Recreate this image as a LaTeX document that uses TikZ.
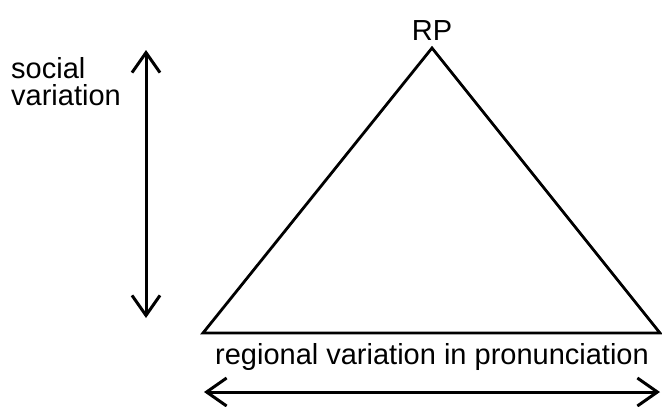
\documentclass[tikz,border=0pt]{standalone}
\usepackage{fontspec}
\setmainfont{Liberation Sans}
\usetikzlibrary{arrows.meta}
\begin{document}
\begin{tikzpicture}[x=1pt,y=-1pt,
  lbl/.style={font=\fontsize{29}{27}\selectfont, inner sep=0pt},
  dbl/.style={line width=3pt, {Straight Barb[length=20pt,width=28pt,line width=3pt]}-{Straight Barb[length=20pt,width=28pt,line width=3pt]}}]
\useasboundingbox (0,0) rectangle (662,407);
\coordinate (apex) at (432,48);
\coordinate (bl) at (203,333);
\coordinate (br) at (660,333);
\draw[line width=2.8pt, line join=miter] (apex) -- (br) -- (bl) -- cycle;
\node[lbl, anchor=base] (rp) at (432,40) {RP};
\node[lbl, anchor=base west, align=left] (soc) at (11,105) {social\\variation};
\node[lbl, anchor=base] (reg) at (432,364) {regional variation in pronunciation};
\coordinate (vt) at (146,50);
\coordinate (vb) at (146,318);
\draw[dbl] (vt) -- (vb);
\coordinate (hl) at (204,392);
\coordinate (hr) at (660,392);
\draw[dbl] (hl) -- (hr);
\end{tikzpicture}
\end{document}
